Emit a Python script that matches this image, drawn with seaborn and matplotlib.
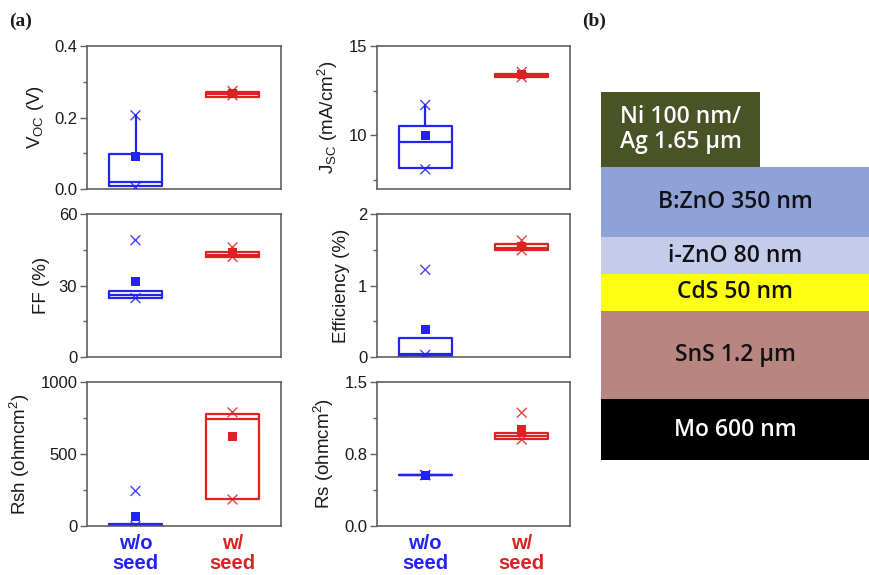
import numpy as np
import pandas as pd
import seaborn as sns
import matplotlib
matplotlib.use("Agg")
import matplotlib.pyplot as plt
from matplotlib.ticker import FixedLocator, FixedFormatter

# ---------------- data ----------------
categories = ["w/o\nseed", "w/\nseed"]
cat_colors = ["#2323f5", "#dc2323"]

panel_ylabels = ["V$_{OC}$ (V)", "J$_{SC}$ (mA/cm$^2$)", "FF (%)",
                 "Efficiency (%)", "Rsh (ohmcm$^2$)", "Rs (ohmcm$^2$)"]
panel_ylims = [(0, 0.4), (7, 15), (0, 60), (0, 2), (0, 1000), (0, 1.5)]
major_ticks = [[0, 0.2, 0.4], [10, 15], [0, 30, 60], [0, 1, 2], [0, 500, 1000], [0, 0.75, 1.5]]
major_labels = [["0.0", "0.2", "0.4"], ["10", "15"], ["0", "30", "60"], ["0", "1", "2"],
                ["0", "500", "1000"], ["0.0", "0.8", "1.5"]]
minor_ticks = [[0.1, 0.3], [7.5, 12.5], [15, 45], [0.5, 1.5], [250, 750], [0.375, 1.125]]

# box statistics per panel: [w/o seed, w/ seed]
q1 = [[0.009, 0.258], [8.15, 13.24], [24.7, 42.1], [0.02, 1.49], [0.0, 190], [0.53, 0.907]]
median = [[0.019, 0.266], [9.63, 13.35], [26.0, 43.0], [0.04, 1.53], [5.0, 740], [0.53, 0.94]]
q3 = [[0.098, 0.270], [10.52, 13.46], [27.7, 44.2], [0.27, 1.58], [15.0, 775], [0.53, 0.966]]
whis_lo = [[0.009, 0.258], [8.15, 13.24], [24.7, 42.1], [0.02, 1.49], [0.0, 190], [0.53, 0.907]]
whis_hi = [[0.206, 0.270], [11.7, 13.46], [27.7, 44.2], [0.27, 1.58], [15.0, 775], [0.53, 0.966]]
mean = [[0.090, 0.268], [10.0, 13.38], [31.6, 44.0], [0.39, 1.55], [68, 624], [0.53, 1.0]]
minimum = [[0.005, 0.262], [8.1, 13.25], [24.7, 42.0], [0.03, 1.49], [0, 184], [0.53, 0.90]]
maximum = [[0.206, 0.274], [11.7, 13.55], [49.0, 46.0], [1.22, 1.63], [243, 789], [0.53, 1.18]]

# device stack (schematic layer heights, top to bottom)
layer_labels = ["Ni 100 nm/\nAg 1.65 \u00b5m", "B:ZnO 350 nm", "i-ZnO 80 nm",
                "CdS 50 nm", "SnS 1.2 \u00b5m", "Mo 600 nm"]
layer_heights = [75, 70, 37, 37, 88, 61]
layer_widths = [0.593, 1, 1, 1, 1, 1]
layer_colors = ["#4a5326", "#8ea2d8", "#c4cce9", "#ffff12", "#b88581", "#000000"]
layer_text_colors = ["white", "#111111", "#111111", "#111111", "#111111", "white"]

# ---------------- style ----------------
sns.set_theme(style="white")
plt.rcParams["font.family"] = ["Liberation Sans", "DejaVu Sans"]
plt.rcParams["mathtext.fontset"] = "custom"
plt.rcParams["mathtext.rm"] = "Liberation Sans"
plt.rcParams["mathtext.it"] = "Liberation Sans"
for key in ["text.color", "axes.labelcolor", "xtick.color", "ytick.color"]:
    plt.rcParams[key] = "#1a1a1a"

W, H = 869, 575
fig = plt.figure(figsize=(W / 100, H / 100), dpi=100)

def frac(x0, y0, x1, y1):
    return [x0 / W, 1 - y1 / H, (x1 - x0) / W, (y1 - y0) / H]

col_x = [(87, 281), (377, 570)]
row_y = [(46, 189), (214, 357), (382, 526)]
spine_c = "#606060"

for i in range(6):
    r, c = divmod(i, 2)
    ax = fig.add_axes(frac(col_x[c][0], row_y[r][0], col_x[c][1], row_y[r][1]))
    stats = []
    for k in range(2):
        stats.append(dict(med=median[i][k], q1=q1[i][k], q3=q3[i][k],
                          whislo=whis_lo[i][k], whishi=whis_hi[i][k],
                          mean=mean[i][k], fliers=[]))
    art = ax.bxp(stats, positions=[0, 1], widths=0.55, showfliers=False,
                 showcaps=False, showmeans=False, patch_artist=False)
    for k in range(2):
        col = cat_colors[k]
        art["boxes"][k].set_color(col)
        art["boxes"][k].set_linewidth(1.6)
        art["medians"][k].set_color(col)
        art["medians"][k].set_linewidth(1.6)
        for w in art["whiskers"][2 * k:2 * k + 2]:
            w.set_color(col)
            w.set_linewidth(1.6)

    df_mean = pd.DataFrame({"x": [0, 1], "y": mean[i], "cat": categories})
    df_ext = pd.DataFrame({"x": [0, 1, 0, 1],
                           "y": minimum[i] + maximum[i],
                           "cat": categories * 2})
    sns.scatterplot(data=df_ext, x="x", y="y", hue="cat", palette=cat_colors,
                    marker="x", s=50, linewidth=1.0, alpha=0.85, legend=False,
                    ax=ax, zorder=4)
    sns.scatterplot(data=df_mean, x="x", y="y", hue="cat", palette=cat_colors,
                    marker="s", s=42, edgecolor="none", legend=False, ax=ax, zorder=5)

    ax.set_xlim(-0.5, 1.5)
    ax.set_ylim(*panel_ylims[i])
    ax.yaxis.set_major_locator(FixedLocator(major_ticks[i]))
    ax.yaxis.set_major_formatter(FixedFormatter(major_labels[i]))
    ax.yaxis.set_minor_locator(FixedLocator(minor_ticks[i]))
    ax.tick_params(axis="y", which="major", direction="out", length=5, width=1.0,
                   color=spine_c, labelsize=12, pad=2, left=True)
    ax.tick_params(axis="y", which="minor", direction="out", length=3, width=1.0,
                   color=spine_c, left=True)
    ax.set_ylabel(panel_ylabels[i], fontsize=13.5, labelpad=6)
    ax.set_xlabel("")
    for s in ax.spines.values():
        s.set_color(spine_c)
        s.set_linewidth(1.2)
        s.set_visible(True)
    ax.set_xticks([0, 1])
    if r == 2:
        ax.set_xticklabels(categories, fontsize=14.5, fontweight="bold",
                           linespacing=1.05)
        for t, col in zip(ax.get_xticklabels(), cat_colors):
            t.set_color(col)
        ax.tick_params(axis="x", length=0, pad=6)
    else:
        ax.set_xticklabels([])
        ax.tick_params(axis="x", length=0)

# ---------------- panel (b): device stack ----------------
axb = fig.add_axes(frac(601, 92, 869, 460))
total = sum(layer_heights)
bottoms = total - np.cumsum(layer_heights)
for lab, h, b, w, fc, tc in zip(layer_labels, layer_heights, bottoms, layer_widths,
                                 layer_colors, layer_text_colors):
    axb.bar(0, h, bottom=b, width=w, align="edge", color=fc, edgecolor="none")
    axb.text(w / 2, b + h / 2, lab, ha="center", va="center", color=tc,
             fontsize=16.5, fontweight="semibold", family=["Open Sans", "DejaVu Sans"],
             linespacing=1.1)
axb.set_xlim(0, 1)
axb.set_ylim(0, total)
axb.axis("off")

fig.text(0.010, 0.963, "(a)", fontsize=14, fontweight="bold",
         family=["Liberation Serif", "DejaVu Serif"], va="center")
fig.text(0.670, 0.963, "(b)", fontsize=14, fontweight="bold",
         family=["Liberation Serif", "DejaVu Serif"], va="center")

fig.savefig("out.png", dpi=100)
